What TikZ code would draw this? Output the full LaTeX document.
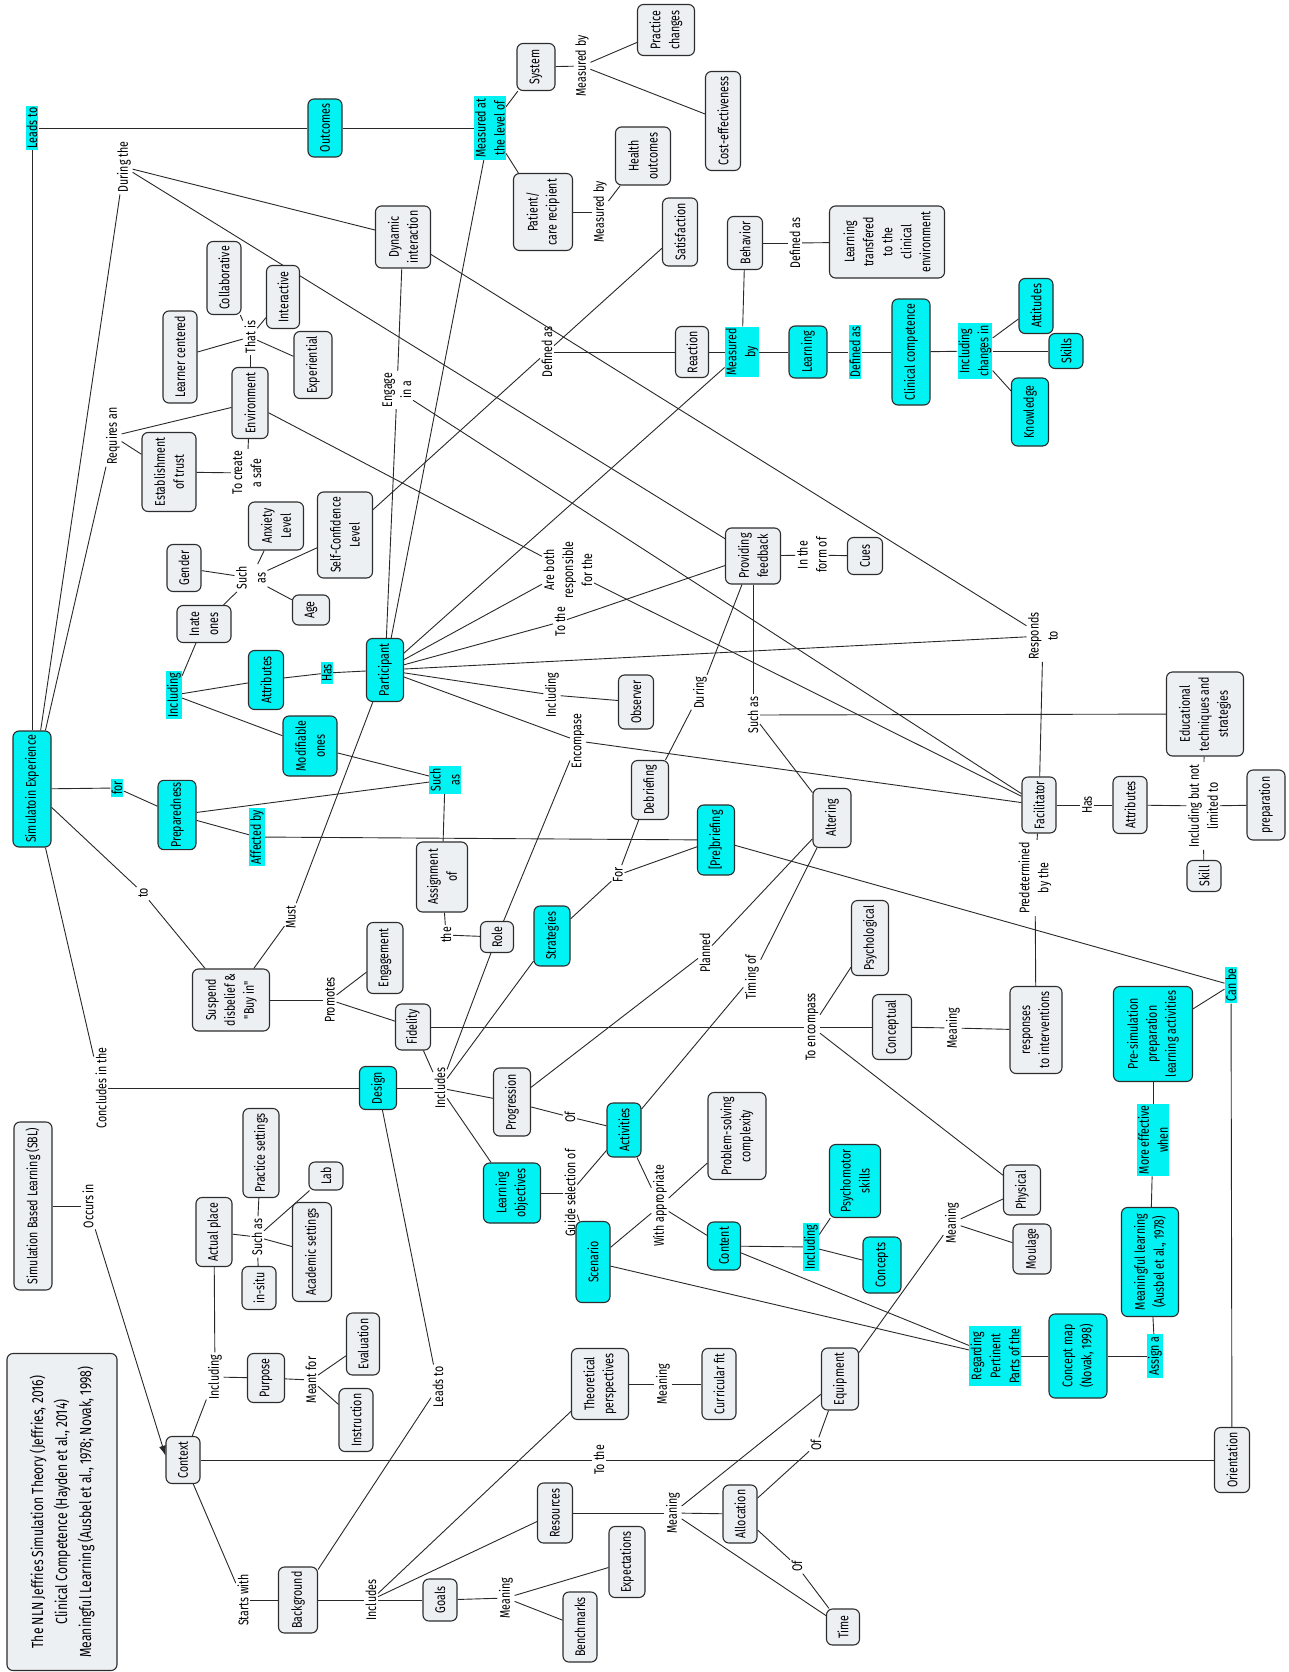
\documentclass[tikz,border=0pt]{standalone}
\usepackage{fontspec}
\newfontfamily\mapfont{Fira Sans}[FakeStretch=0.76]
\usetikzlibrary{arrows.meta,backgrounds}
\definecolor{cyanfill}{RGB}{0,242,242}
\definecolor{boxfill}{RGB}{236,240,243}
\definecolor{boxline}{RGB}{45,45,45}
\definecolor{linecol}{RGB}{40,40,40}
\tikzset{
  every node/.style={rotate=90, font=\mapfont\fontsize{14}{19}\selectfont, align=center},
  cbox/.style 2 args={draw=boxline, fill=boxfill, rounded corners=6pt, line width=1.1pt,
    inner sep=2pt, minimum height=#1pt, minimum width=#2pt},
  kbox/.style 2 args={cbox={#1}{#2}, fill=cyanfill},
  clab/.style={fill=cyanfill, inner xsep=2pt, inner ysep=1pt},
  plab/.style={inner xsep=2pt, inner ysep=1.5pt},
  link/.style={draw=linecol, line width=0.9pt},
  legendbox/.style={cbox={110}{317}, font=\mapfont\fontsize{16}{24}\selectfont},
}
\begin{document}
\begin{tikzpicture}[x=1pt,y=-1pt]
\useasboundingbox (0,0) rectangle (1289,1672);

% ---------- outcomes ----------
\node[kbox={34}{58}] (outcomes) at (325,128) {Outcomes};
\node[clab] (leadsA) at (32,128) {Leads to};
\node[clab] (measat) at (490,128) {Measured at\\the level of};
\node[cbox={38}{47}] (system) at (536,67) {System};
\node[plab] (measbyA) at (582,66) {Measured by};
\node[cbox={57}{51}] (practice) at (666,30) {Practice\\changes};
\node[cbox={35}{99}] (costeff) at (723,121) {Cost-effectiveness};
\node[cbox={59}{77}] (patient) at (543,212) {Patient/\\care recipient};
\node[plab] (measbyB) at (600,212) {Measured by};
\node[cbox={55}{58}] (health) at (643,156) {Health\\outcomes};
\node[cbox={35}{68}] (satisf) at (680,232) {Satisfaction};
\node[cbox={35}{53}] (behavior) at (745,243) {Behavior};
\node[plab] (defasB) at (795,243) {Defined as};
\node[cbox={115}{72}] (ltrans) at (887,242) {Learning\\transfered\\to the\\clinical\\environment};
\node[cbox={33}{51}] (reaction) at (692,352) {Reaction};
\node[plab] (defasR) at (547,352) {Defined as};
\node[clab] (measbyC) at (742,352) {Measured\\by};
\node[kbox={38}{52}] (learning) at (808,352) {Learning};
\node[clab] (defasC) at (855,352) {Defined as};
\node[kbox={38}{106}] (clincomp) at (911,352) {Clinical competence};
\node[clab] (inclchg) at (975,351) {Including\\changes in};
\node[kbox={34}{55}] (attitudes) at (1036,306) {Attitudes};
\node[kbox={34}{35}] (skills) at (1066,351) {Skills};
\node[kbox={37}{68}] (knowledge) at (1030,412) {Knowledge};

% ---------- environment ----------
\node[plab] (duringthe) at (124,167) {During the};
\node[cbox={55}{62}] (dynamic) at (403,237) {Dynamic\\interaction};
\node[plab] (engage) at (397,390) {Engage\\in a};
\node[cbox={34}{73}] (collab) at (224,278) {Collaborative};
\node[cbox={33}{63}] (interactive) at (283,297) {Interactive};
\node[cbox={34}{92}] (learnercent) at (180,357) {Learner centered};
\node[plab] (thatis) at (250,337) {That is};
\node[cbox={38}{67}] (experiential) at (313,365) {Experiential};
\node[cbox={36}{71}] (environment) at (250,403) {Environment};
\node[plab] (requires) at (113,436) {Requires an};
\node[cbox={54}{79}] (trust) at (169,472) {Establishment\\of trust};
\node[plab] (tocreate) at (247,473) {To create\\a safe};

% ---------- participant attributes ----------
\node[cbox={34}{47}] (gender) at (184,568) {Gender};
\node[cbox={55}{48}] (anxiety) at (276,526) {Anxiety\\Level};
\node[plab] (suchasA) at (251,578) {Such\\as};
\node[cbox={55}{86}] (selfconf) at (345,535) {Self-Confidence\\Level};
\node[cbox={54}{37}] (inate) at (204,624) {Inate\\ones};
\node[cbox={37}{30}] (age) at (311,610) {Age};
\node[kbox={35}{59}] (attrib) at (266,680) {Attributes};
\node[clab] (hasA) at (327,673) {Has};
\node[kbox={37}{63}] (participant) at (385,670) {Participant};
\node[clab] (inclA) at (174,695) {Including};
\node[kbox={54}{60}] (modif) at (310,746) {Modifiable\\ones};
\node[kbox={38}{116}] (simexp) at (32,789) {Simulatoin Experience};
\node[clab] (forA) at (117,788) {for};
\node[kbox={38}{68}] (prep) at (177,815) {Preparedness};
\node[clab] (suchasC) at (445,780) {Such\\as};
\node[clab] (affby) at (257,837) {Affected by};

% ---------- facilitator ----------
\node[plab] (areboth) at (568,570) {Are both\\responsible\\for the};
\node[plab] (totheA) at (560,622) {To the};
\node[cbox={55}{56}] (providing) at (753,556) {Providing\\feedback};
\node[plab] (inform) at (812,555) {In the\\form of};
\node[cbox={35}{37}] (cues) at (865,556) {Cues};
\node[plab] (inclO) at (552,695) {Including};
\node[cbox={35}{54}] (observer) at (636,702) {Observer};
\node[plab] (during) at (700,693) {During};
\node[plab] (suchasB) at (753,715) {Such as};
\node[plab] (encompase) at (578,741) {Encompase};
\node[cbox={37}{59}] (debrief) at (650,790) {Debriefing};
\node[cbox={38}{59}] (altering) at (832,818) {Altering};
\node[kbox={37}{70}] (prebrief) at (716,840) {[Pre]briefing};
\node[plab] (responds) at (1043,636) {Responds\\to};
\node[cbox={77}{84}] (edtech) at (1205,714) {Educational\\techniques and\\strategies};
\node[cbox={34}{56}] (facilitator) at (1039,805) {Facilitator};
\node[plab] (hasF) at (1087,805) {Has};
\node[cbox={34}{57}] (fattrib) at (1130,805) {Attributes};
\node[plab] (inclbut) at (1203,806) {Including but not\\limited to};
\node[cbox={38}{70}] (preparation) at (1266,805) {preparation};
\node[cbox={34}{31}] (skill) at (1204,876) {Skill};

% ---------- design ----------
\node[plab] (toA) at (143,893) {to};
\node[plab] (must) at (291,917) {Must};
\node[cbox={77}{62}] (suspend) at (231,1000) {Suspend\\disbelief \&\\"Buy in"};
\node[cbox={36}{71}] (engagement) at (385,958) {Engagement};
\node[plab] (promotes) at (330,1000) {Promotes};
\node[cbox={35}{46}] (fidelity) at (413,1027) {Fidelity};
\node[plab] (concludes) at (101,1088) {Concludes in the};
\node[kbox={37}{43}] (design) at (378,1088) {Design};
\node[cbox={38}{168}] (sbl) at (33,1206) {Simulation Based Learning (SBL)};
\node[plab] (occurs) at (88,1206) {Occurs in};
\node[cbox={36}{89}] (practset) at (261,1153) {Practice settings};
\node[cbox={34}{28}] (lab) at (326,1176) {Lab};
\node[cbox={36}{69}] (actual) at (214,1232) {Actual place};
\node[plab] (suchasD) at (257,1237) {Such as};
\node[cbox={39}{99}] (academic) at (312,1252) {Academic settings};
\node[cbox={34}{43}] (insitu) at (259,1288) {in-situ};
\node[cbox={51}{70}] (assign) at (442,877) {Assignment\\of};
\node[plab] (theL) at (446,935) {the};
\node[cbox={33}{31}] (role) at (497,937) {Role};
\node[kbox={36}{60}] (strategies) at (552,936) {Strategies};
\node[plab] (forB) at (618,875) {For};
\node[plab] (planned) at (705,953) {Planned};
\node[plab] (timing) at (752,977) {Timing of};
\node[plab] (toencomp) at (812,1027) {To encompass};
\node[plab] (includesD) at (440,1088) {Includes};
\node[cbox={37}{68}] (progression) at (512,1102) {Progression};
\node[plab] (ofA) at (570,1117) {Of};
\node[kbox={34}{54}] (activities) at (624,1130) {Activities};
\node[cbox={58}{87}] (problem) at (737,1136) {Problem-solving\\complexity};
\node[kbox={57}{60}] (learnobj) at (512,1193) {Learning\\objectives};
\node[plab] (guide) at (570,1193) {Guide selection of};
\node[plab] (withapp) at (660,1206) {With appropriate};
\node[kbox={51}{73}] (psycho) at (855,1181) {Psychomotor\\skills};
\node[kbox={33}{48}] (content) at (724,1246) {Content};
\node[clab] (inclB) at (811,1247) {Including};
\node[kbox={34}{81}] (scenario) at (593,1262) {Scenario};
\node[kbox={38}{56}] (concepts) at (882,1265) {Concepts};

% ---------- fidelity and preparation ----------
\node[plab] (predet) at (1035,878) {Predetermined\\by the};
\node[cbox={37}{75}] (psychological) at (870,938) {Psychological};
\node[clab] (canbe) at (1231,985) {Can be};
\node[cbox={39}{65}] (conceptual) at (892,1027) {Conceptual};
\node[plab] (meaningC) at (953,1028) {Meaning};
\node[cbox={52}{87}] (responses) at (1036,1030) {responses\\to interventions};
\node[kbox={79}{95}] (presim) at (1153,1034) {Pre-simulation\\preparation\\learning activities};
\node[clab] (moreeff) at (1153,1140) {More effective\\when};
\node[cbox={37}{50}] (physical) at (1022,1190) {Physical};
\node[plab] (meaningP) at (952,1223) {Meaning};
\node[cbox={38}{50}] (moulage) at (1032,1249) {Moulage};
\node[kbox={57}{109}] (meanlearn) at (1150,1262) {Meaningful learning\\(Ausbel et al., 1978)};
\node[clab] (assigna) at (1155,1356) {Assign a};
\node[kbox={58}{84}] (conceptmap) at (1078,1356) {Concept map\\(Novak, 1998)};
\node[clab] (regarding) at (995,1356) {Regarding\\Pertinent\\Parts of the};
\node[cbox={35}{65}] (orientation) at (1232,1460) {Orientation};

% ---------- context ----------
\node[cbox={34}{47}] (context) at (183,1460) {Context};
\node[plab] (inclCtx) at (215,1377) {Including};
\node[cbox={37}{49}] (purpose) at (266,1378) {Purpose};
\node[plab] (meantfor) at (311,1380) {Meant for};
\node[cbox={33}{62}] (evaluation) at (363,1344) {Evaluation};
\node[cbox={34}{63}] (instruction) at (356,1420) {Instruction};
\node[plab] (startswith) at (243,1600) {Starts with};
\node[cbox={39}{66}] (background) at (298,1600) {Background};
\node[plab] (includesB) at (371,1600) {Includes};
\node[cbox={34}{42}] (goals) at (440,1600) {Goals};
\node[plab] (leadsB) at (438,1387) {Leads to};
\node[cbox={57}{71}] (theoretical) at (600,1384) {Theoretical\\perspectives};
\node[plab] (meaningT) at (663,1384) {Meaning};
\node[cbox={34}{71}] (curricular) at (719,1384) {Curricular fit};
\node[plab] (totheB) at (599,1460) {To the};
\node[cbox={35}{60}] (resources) at (555,1513) {Resources};
\node[plab] (meaningR) at (673,1513) {Meaning};
\node[cbox={34}{58}] (allocation) at (740,1514) {Allocation};
\node[cbox={37}{62}] (equipment) at (840,1379) {Equipment};
\node[plab] (ofB) at (816,1445) {Of};
\node[plab] (ofC) at (797,1566) {Of};
\node[cbox={33}{36}] (time) at (843,1627) {Time};
\node[cbox={36}{71}] (expectations) at (627,1562) {Expectations};
\node[plab] (meaningG) at (506,1598) {Meaning};
\node[cbox={34}{70}] (benchmarks) at (580,1627) {Benchmarks};

\node[legendbox] (legend) at (62,1512) {The NLN Jeffries Simulation Theory (Jeffries, 2016)\\Clinical Competence (Hayden et al., 2014)\\Meaningful Learning (Ausbel et al., 1978; Novak, 1998)};

% ---------- connectors ----------
\begin{scope}[on background layer]
\fill[white] (0,0) rectangle (1289,1672);
\foreach \a/\b in {
  simexp/leadsA, leadsA/outcomes, outcomes/measat,
  measat/system, measat/patient, measat/participant,
  system/measbyA, measbyA/practice, measbyA/costeff,
  patient/measbyB, measbyB/health,
  simexp/duringthe, duringthe/dynamic, duringthe/providing,
  dynamic/engage, engage/participant, engage/facilitator, dynamic/responds,
  simexp/requires, requires/trust, requires/environment,
  trust/tocreate, tocreate/environment,
  environment/thatis, thatis/learnercent, thatis/collab, thatis/interactive, thatis/experiential,
  environment/areboth,
  participant/measbyC, measbyC/reaction, measbyC/learning, measbyC/behavior,
  reaction/defasR, defasR/satisf, defasR/selfconf,
  behavior/defasB, defasB/ltrans,
  learning/defasC, defasC/clincomp, clincomp/inclchg,
  inclchg/attitudes, inclchg/skills, inclchg/knowledge,
  participant/hasA, hasA/attrib, attrib/inclA, inclA/inate, inclA/modif,
  inate/suchasA, suchasA/gender, suchasA/anxiety, suchasA/selfconf, suchasA/age,
  modif/suchasC, prep/suchasC, suchasC/assign,
  simexp/forA, forA/prep, prep/affby, affby/prebrief,
  participant/areboth, areboth/facilitator,
  participant/totheA, totheA/providing,
  participant/responds, responds/facilitator,
  participant/inclO, inclO/observer,
  participant/encompase, encompase/facilitator, encompase/role,
  participant/must, must/suspend,
  providing/inform, inform/cues,
  providing/suchasB, suchasB/altering, suchasB/edtech,
  debrief/during, during/providing,
  facilitator/hasF, hasF/fattrib, fattrib/inclbut,
  inclbut/preparation, inclbut/skill, inclbut/edtech,
  facilitator/predet, predet/responses,
  simexp/toA, toA/suspend,
  suspend/promotes, promotes/engagement, promotes/fidelity,
  simexp/concludes, concludes/design,
  design/includesD, includesD/fidelity, includesD/role, includesD/strategies,
  includesD/progression, includesD/learnobj,
  assign/theL, theL/role,
  strategies/forB, forB/debrief, forB/prebrief,
  progression/planned, planned/altering,
  activities/timing, timing/altering,
  progression/ofA, ofA/activities,
  learnobj/guide, guide/activities, guide/scenario,
  activities/withapp, scenario/withapp, withapp/problem, withapp/content,
  content/inclB, inclB/psycho, inclB/concepts,
  fidelity/toencomp, toencomp/conceptual, toencomp/psychological, toencomp/physical,
  conceptual/meaningC, meaningC/responses,
  physical/meaningP, moulage/meaningP, meaningP/equipment,
  prebrief/canbe, canbe/presim, canbe/orientation,
  presim/moreeff, moreeff/meanlearn, meanlearn/assigna, assigna/conceptmap,
  conceptmap/regarding, regarding/scenario, regarding/content,
  sbl/occurs,
  context/inclCtx, inclCtx/actual, inclCtx/purpose,
  actual/suchasD, suchasD/practset, suchasD/lab, suchasD/academic, suchasD/insitu,
  purpose/meantfor, meantfor/evaluation, meantfor/instruction,
  context/startswith, startswith/background,
  context/totheB, totheB/orientation,
  design/leadsB, leadsB/background,
  background/includesB, includesB/goals, includesB/resources, includesB/theoretical,
  goals/meaningG, meaningG/expectations, meaningG/benchmarks,
  theoretical/meaningT, meaningT/curricular,
  resources/meaningR, meaningR/allocation, meaningR/equipment, meaningR/time,
  allocation/ofB, ofB/equipment, allocation/ofC, ofC/time}
  \draw[link] (\a) -- (\b);
\draw[link, -{Latex[length=10pt,width=7pt]}] (occurs) -- (context.76);
\end{scope}
\end{tikzpicture}
\end{document}
